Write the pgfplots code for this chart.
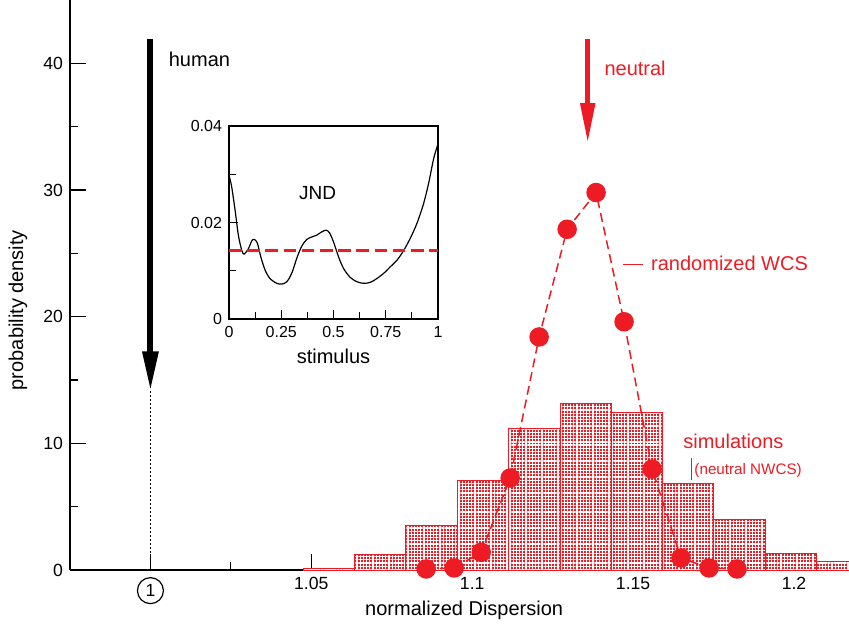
\documentclass[border=0pt]{standalone}
\usepackage{pgfplots}
\pgfplotsset{compat=1.18}
\usepackage{fontspec}
\setmainfont{Liberation Sans}
\usetikzlibrary{arrows.meta,patterns.meta}
\definecolor{mred}{RGB}{237,28,36}

\begin{document}
\begin{tikzpicture}
\path[use as bounding box] (-35bp,-30bp) rectangle (389.5bp,285bp);
\begin{axis}[
  at={(0,0)}, anchor=south west,
  scale only axis, width=389.5bp, height=285bp,
  xmin=0.975, xmax=1.2171, ymin=0, ymax=45,
  axis x line*=bottom, axis y line*=left,
  axis line style={line width=0.8pt, -},
  clip=false,
  tick align=inside,
  major tick length=8bp, minor tick length=4bp,
  tick style={line width=0.6pt, black},
  xtick={1,1.05,1.1,1.15,1.2},
  xticklabels={{\tikz[baseline=(c.base)]\node[draw,circle,inner sep=0pt,minimum size=13bp,line width=0.6pt](c){1};},1.05,1.1,1.15,1.2},
  minor xtick={1.025,1.075,1.125,1.175},
  ytick={0,10,20,30,40}, yticklabels={0,10,20,30,40},
  minor ytick={5,15,25,35},
  tick label style={font=\fontsize{8.8bp}{10bp}\selectfont},
  xlabel={normalized Dispersion}, ylabel={probability density},
  label style={font=\fontsize{10bp}{12bp}\selectfont},
  xlabel style={at={(axis description cs:0.506,-0.070)}, anchor=center},
  ylabel style={at={(axis description cs:-0.0667,0.456)}, anchor=center},
]
% histogram (simulations, neutral NWCS)
\addplot[ybar interval, draw=mred, line width=0.5pt, fill=mred,
  postaction={pattern={Lines[angle=0,distance=1.6pt,line width=0.6pt]}, pattern color=white},
  postaction={pattern={Lines[angle=90,distance=1.6pt,line width=0.6pt]}, pattern color=white}]
  coordinates {(1.0475,0.1) (1.0635,1.26) (1.0794,3.55) (1.0954,7.1) (1.1113,11.2) (1.1273,13.15) (1.1432,12.4) (1.1592,6.8) (1.1751,4.0) (1.1911,1.34) (1.2070,0.65) (1.2230,0.65)};
% randomized WCS
\addplot[mred, dash pattern=on 4.5bp off 2.5bp, line width=0.75bp, mark=*, mark size=4.5bp, mark options={solid, fill=mred, draw=mred}]
  coordinates {(1.0857,0.08) (1.0944,0.16) (1.1028,1.4) (1.1118,7.26) (1.1208,18.4) (1.1295,26.9) (1.1385,29.8) (1.1472,19.6) (1.1559,7.97) (1.1649,0.95) (1.1736,0.16) (1.1823,0.08)};
% human arrow
\addplot[black, line width=3bp, -{Triangle[length=20bp,width=7.5bp]}] coordinates {(1,41.9) (1,14.1)};
\addplot[black, line width=0.5bp, dash pattern=on 1bp off 1bp] coordinates {(1,14.1) (1,0)};
% neutral arrow
\addplot[mred, line width=2.5bp, -{Triangle[length=20bp,width=7bp]}] coordinates {(1.1359,41.9) (1.1359,33.7)};
\node[anchor=west, font=\fontsize{10bp}{12bp}\selectfont, inner sep=0pt] at (axis cs:1.0056,40.3) {human};
\node[anchor=west, text=mred, font=\fontsize{10bp}{12bp}\selectfont, inner sep=0pt] at (axis cs:1.141,39.6) {neutral};
\node[anchor=west, text=mred, font=\fontsize{10bp}{12bp}\selectfont, inner sep=0pt] at (axis cs:1.1468,24.17) {\rule[0.3em]{10bp}{0.6bp}\hspace{4bp}randomized WCS};
\node[anchor=west, text=mred, font=\fontsize{10bp}{12bp}\selectfont, inner sep=0pt] at (axis cs:1.1655,10.12) {simulations};
\node[anchor=west, text=mred, font=\fontsize{7.6bp}{9bp}\selectfont, inner sep=0pt] at (axis cs:1.1679,7.97) {\rule[-0.35em]{0.5bp}{1.45em}\hspace{1.2bp}(neutral NWCS)};
\end{axis}
\begin{axis}[
  at={(79.5bp,125.5bp)}, anchor=south west,
  scale only axis, width=104.5bp, height=96.5bp,
  xmin=0, xmax=1, ymin=0, ymax=0.04,
  axis background/.style={fill=white},
  axis line style={line width=0.6pt},
  tick align=inside, xtick pos=left, ytick pos=left,
  major tick length=4.5bp, minor tick length=3.5bp,
  tick style={line width=0.5pt, black},
  xtick={0,0.25,0.5,0.75,1}, xticklabels={0,0.25,0.5,0.75,1},
  minor xtick={0.125,0.375,0.625,0.875},
  ytick={0,0.02,0.04}, yticklabels={0,0.02,0.04},
  minor ytick={0.01,0.03},
  scaled y ticks=false,
  tick label style={font=\fontsize{8bp}{9.5bp}\selectfont},
  xlabel={stimulus},
  label style={font=\fontsize{10bp}{12bp}\selectfont},
  xlabel style={yshift=1bp},
]
\addplot[black, line width=0.6bp, smooth] coordinates {(0,0.0298) (0.0128,0.0274) (0.029,0.0226) (0.0447,0.0174) (0.0607,0.0143) (0.072,0.01345) (0.093,0.0146) (0.109,0.0162) (0.121,0.0165) (0.136,0.0157) (0.152,0.0129) (0.173,0.0101) (0.196,0.0084) (0.228,0.0074) (0.252,0.00724) (0.276,0.0077) (0.300,0.00945) (0.324,0.01255) (0.348,0.0151) (0.372,0.01648) (0.396,0.0170) (0.420,0.01738) (0.444,0.01807) (0.465,0.0184) (0.481,0.01786) (0.500,0.0160) (0.524,0.0129) (0.548,0.01048) (0.580,0.00862) (0.612,0.00772) (0.644,0.0074) (0.676,0.00759) (0.708,0.0084) (0.740,0.00945) (0.772,0.01083) (0.804,0.0122) (0.835,0.01414) (0.867,0.01669) (0.899,0.0198) (0.931,0.0239) (0.955,0.0281) (0.979,0.0332) (1.0,0.0363)};
\addplot[mred, line width=1.3bp, dash pattern=on 6.3bp off 2.8bp] coordinates {(0,0.0142) (1,0.0142)};
\node[font=\fontsize{9.5bp}{11bp}\selectfont] at (axis cs:0.424,0.0261) {JND};
\end{axis}
\end{tikzpicture}
\end{document}
